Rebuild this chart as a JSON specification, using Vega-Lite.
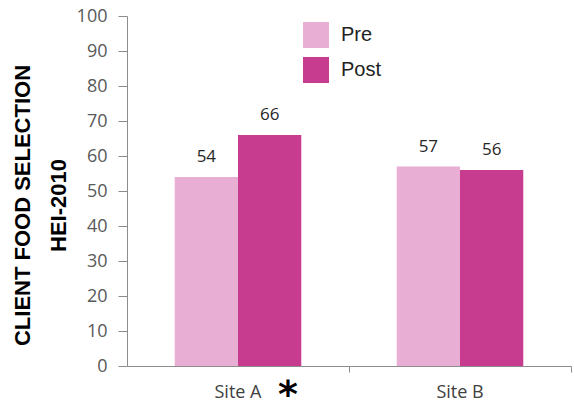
{
  "$schema": "https://vega.github.io/schema/vega-lite/v6.json",
  "width": 444,
  "height": 350,
  "autosize": "none",
  "padding": {"left": 127, "top": 16, "right": 3, "bottom": 40},
  "background": "white",
  "datasets": {
    "bars": [
      {"site": "Site A", "phase": "Pre", "value": 54},
      {"site": "Site A", "phase": "Post", "value": 66},
      {"site": "Site B", "phase": "Pre", "value": 57},
      {"site": "Site B", "phase": "Post", "value": 56}
    ],
    "notes": [
      {"site": "Site A", "mark": "*", "value": 0}
    ]
  },
  "config": {
    "view": {"stroke": null},
    "font": "Liberation Sans"
  },
  "encoding": {
    "x": {
      "field": "site",
      "type": "nominal",
      "scale": {"paddingInner": 0.43, "paddingOuter": 0.215},
      "axis": {
        "title": null,
        "labelAngle": 0,
        "labelFont": "Open Sans",
        "labelFontSize": 18,
        "labelColor": "#404040",
        "labelPadding": 11,
        "domainColor": "#8c8c8c",
        "tickColor": "#8c8c8c",
        "tickSize": 6,
        "bandPosition": 1.379
      }
    },
    "y": {
      "field": "value",
      "type": "quantitative",
      "scale": {"domain": [0, 100]},
      "axis": {
        "title": ["CLIENT FOOD SELECTION", "HEI-2010"],
        "titleFont": "Liberation Sans",
        "titleFontSize": 22,
        "titleFontWeight": "bold",
        "titleColor": "#000000",
        "titleLineHeight": 36,
        "titlePadding": 6,
        "titleY": 189,
        "values": [0, 10, 20, 30, 40, 50, 60, 70, 80, 90, 100],
        "grid": false,
        "labelFont": "Open Sans",
        "labelFontSize": 18,
        "labelColor": "#595959",
        "labelPadding": 11,
        "domainColor": "#8c8c8c",
        "tickColor": "#8c8c8c",
        "tickSize": 9
      }
    }
  },
  "layer": [
    {
      "data": {"name": "bars"},
      "mark": {"type": "bar"},
      "encoding": {
        "xOffset": {"field": "phase", "type": "nominal", "sort": ["Pre", "Post"]},
        "color": {
          "field": "phase",
          "type": "nominal",
          "sort": ["Pre", "Post"],
          "scale": {"domain": ["Pre", "Post"], "range": ["#E8AED3", "#C73C8E"]},
          "legend": {
            "title": null,
            "orient": "none",
            "legendX": 176,
            "legendY": 6,
            "symbolType": "square",
            "symbolSize": 676,
            "symbolStrokeWidth": 0,
            "labelFont": "Liberation Sans",
            "labelFontSize": 20,
            "labelColor": "#222222",
            "labelOffset": 12,
            "rowPadding": 9
          }
        }
      }
    },
    {
      "data": {"name": "bars"},
      "mark": {"type": "text", "dy": -20, "font": "Open Sans", "fontSize": 17, "color": "#262626"},
      "encoding": {
        "xOffset": {"field": "phase", "type": "nominal", "sort": ["Pre", "Post"]},
        "text": {"field": "value", "type": "quantitative"}
      }
    },
    {
      "data": {"name": "notes"},
      "mark": {"type": "text", "dx": 50, "dy": 30, "font": "DejaVu Sans", "fontSize": 38, "fontWeight": "bold", "color": "#000000"},
      "encoding": {
        "text": {"field": "mark", "type": "nominal"}
      }
    }
  ]
}
